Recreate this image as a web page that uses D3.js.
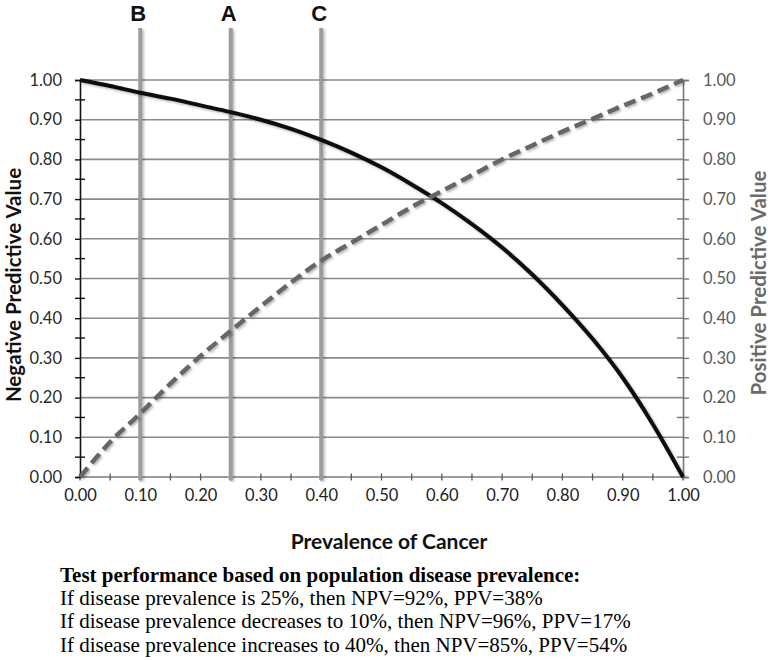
<!DOCTYPE html>
<html>
<head>
<meta charset="utf-8">
<script src="https://cdn.jsdelivr.net/npm/d3@7"></script>
<style>
  body { margin: 0; background: #fff; }
  svg { display: block; }
</style>
</head>
<body>
<svg id="chart" width="771" height="660"></svg>
<script>
// ---------- data ----------
const prevalence = [0.00, 0.05, 0.10, 0.15, 0.20, 0.25, 0.30, 0.35, 0.40, 0.45, 0.50,
                    0.55, 0.60, 0.65, 0.70, 0.75, 0.80, 0.85, 0.90, 0.95, 1.00];
const npvValues = [1.000, 0.985, 0.968, 0.953, 0.936, 0.919, 0.900, 0.877, 0.849, 0.817, 0.780,
                   0.737, 0.690, 0.637, 0.578, 0.510, 0.433, 0.348, 0.250, 0.133, 0.000];
const ppvValues = [0.000, 0.088, 0.160, 0.235, 0.305, 0.368, 0.430, 0.490, 0.545, 0.590, 0.635,
                   0.680, 0.720, 0.760, 0.800, 0.835, 0.870, 0.902, 0.935, 0.966, 1.000];
const markerLabels = ["B", "A", "C"];
const markerPrevalence = [0.10, 0.25, 0.40];
const majorTicks = [0.0, 0.1, 0.2, 0.3, 0.4, 0.5, 0.6, 0.7, 0.8, 0.9, 1.0];
const minorTicks = [0.05, 0.15, 0.25, 0.35, 0.45, 0.55, 0.65, 0.75, 0.85, 0.95];
const xAxisTitle = "Prevalence of Cancer";
const leftAxisTitle = "Negative Predictive Value";
const rightAxisTitle = "Positive Predictive Value";
const noteTitle = "Test performance based on population disease prevalence:";
const noteLines = [
  "If disease prevalence is 25%, then NPV=92%, PPV=38%",
  "If disease prevalence decreases to 10%, then NPV=96%, PPV=17%",
  "If disease prevalence increases to 40%, then NPV=85%, PPV=54%"
];

// ---------- layout ----------
const L = 80, R = 683, T = 80, B = 477;
const svg = d3.select("#chart");
const x = d3.scaleLinear().domain([0, 1]).range([L, R]);
const y = d3.scaleLinear().domain([0, 1]).range([B, T]);
const fmt = d3.format(".2f");
const sans = "Lato, 'Open Sans', sans-serif";

const defs = svg.append("defs");
const sh = defs.append("filter").attr("id", "shadow")
  .attr("filterUnits", "userSpaceOnUse")
  .attr("x", 0).attr("y", 0).attr("width", 771).attr("height", 660);
sh.append("feDropShadow").attr("dx", 1.5).attr("dy", 1.5)
  .attr("stdDeviation", 1.2).attr("flood-color", "#000").attr("flood-opacity", 0.3);

// gridlines
svg.append("g").selectAll("line")
  .data(majorTicks.filter(d => d > 0))
  .join("line")
  .attr("x1", L).attr("x2", R)
  .attr("y1", d => y(d)).attr("y2", d => y(d))
  .attr("stroke", "#8a8a8a").attr("stroke-width", 1.6);

// x axis (domain + crossing ticks)
svg.append("line").attr("x1", L).attr("x2", R).attr("y1", B).attr("y2", B)
  .attr("stroke", "#7a7a7a").attr("stroke-width", 1.6);
svg.append("g").selectAll("line")
  .data(majorTicks.concat(minorTicks))
  .join("line")
  .attr("x1", d => x(d)).attr("x2", d => x(d))
  .attr("y1", B - 3.5).attr("y2", B + 3.5)
  .attr("stroke", "#555").attr("stroke-width", 1.3);
const xAxis = d3.axisBottom(x).tickValues(majorTicks).tickFormat(fmt).tickSize(0).tickPadding(12);
const gx = svg.append("g").attr("transform", `translate(0,${B})`).call(xAxis);
gx.select(".domain").remove();
gx.selectAll("text").attr("font-family", sans).attr("font-size", 16.5).attr("fill", "#222");

// left axis
const yAxisL = d3.axisLeft(y).tickValues(majorTicks).tickFormat(fmt).tickSize(5).tickPadding(13);
const gl = svg.append("g").attr("transform", `translate(${L},0)`).call(yAxisL);
gl.select(".domain").attr("stroke", "#111").attr("stroke-width", 1.6);
gl.selectAll(".tick line").attr("stroke", "#111").attr("stroke-width", 1.4);
gl.selectAll("text").attr("font-family", sans).attr("font-size", 16.5).attr("fill", "#2a2a2a");
svg.append("g").selectAll("line").data(minorTicks).join("line")
  .attr("x1", L - 5).attr("x2", L + 5)
  .attr("y1", d => y(d)).attr("y2", d => y(d))
  .attr("stroke", "#111").attr("stroke-width", 1.4);

// right axis
const yAxisR = d3.axisRight(y).tickValues(majorTicks).tickFormat(fmt).tickSize(6).tickPadding(14);
const gr = svg.append("g").attr("transform", `translate(${R},0)`).call(yAxisR);
gr.select(".domain").attr("stroke", "#777").attr("stroke-width", 1.6);
gr.selectAll(".tick line").attr("stroke", "#777").attr("stroke-width", 1.4);
gr.selectAll("text").attr("font-family", sans).attr("font-size", 16.5).attr("fill", "#5a5a5a");
svg.append("g").selectAll("line").data(minorTicks).join("line")
  .attr("x1", R - 6).attr("x2", R + 6)
  .attr("y1", d => y(d)).attr("y2", d => y(d))
  .attr("stroke", "#777").attr("stroke-width", 1.4);

// marker lines B / A / C
const markers = markerPrevalence.map((p, i) => ({ p, label: markerLabels[i] }));
svg.append("g").selectAll("line").data(markers).join("line")
  .attr("x1", d => x(d.p)).attr("x2", d => x(d.p))
  .attr("y1", 28).attr("y2", B + 3)
  .attr("stroke", "#9b9b9b").attr("stroke-width", 4)
  .attr("filter", "url(#shadow)");
svg.append("g").selectAll("text").data(markers).join("text")
  .attr("x", d => x(d.p) - 2).attr("y", 21)
  .attr("text-anchor", "middle")
  .attr("font-family", "'Liberation Sans', Arial, sans-serif")
  .attr("font-weight", "bold").attr("font-size", 22).attr("fill", "#111")
  .text(d => d.label);

// curves
const npvData = prevalence.map((p, i) => ({ p, v: npvValues[i] }));
const ppvData = prevalence.map((p, i) => ({ p, v: ppvValues[i] }));
const line = d3.line().x(d => x(d.p)).y(d => y(d.v)).curve(d3.curveMonotoneX);

svg.append("path").datum(npvData)
  .attr("d", line).attr("fill", "none")
  .attr("stroke", "#111").attr("stroke-width", 4)
  .attr("stroke-linejoin", "round")
  .attr("filter", "url(#shadow)");
svg.append("path").datum(ppvData)
  .attr("d", line).attr("fill", "none")
  .attr("stroke", "#666").attr("stroke-width", 4.5)
  .attr("stroke-dasharray", "12,6")
  .attr("filter", "url(#shadow)");

// axis titles
svg.append("text")
  .attr("x", 389).attr("y", 549)
  .attr("text-anchor", "middle")
  .attr("font-family", sans).attr("font-weight", "bold").attr("font-size", 21).attr("fill", "#111")
  .text(xAxisTitle);
svg.append("text")
  .attr("transform", "translate(20.5,285) rotate(-90)")
  .attr("text-anchor", "middle")
  .attr("font-family", sans).attr("font-weight", "bold").attr("font-size", 20.5).attr("fill", "#111")
  .text(leftAxisTitle);
svg.append("text")
  .attr("transform", "translate(766,283) rotate(-90)")
  .attr("text-anchor", "middle")
  .attr("font-family", sans).attr("font-weight", "bold").attr("font-size", 20.5).attr("fill", "#6a6a6a")
  .text(rightAxisTitle);

// notes
const serif = "'Liberation Serif', 'Times New Roman', serif";
svg.append("text")
  .attr("x", 60).attr("y", 582)
  .attr("font-family", serif).attr("font-weight", "bold").attr("font-size", 21).attr("fill", "#000")
  .text(noteTitle);
svg.append("g").selectAll("text").data(noteLines).join("text")
  .attr("x", 60).attr("y", (d, i) => 605 + i * 23.3)
  .attr("font-family", serif).attr("font-size", 21).attr("fill", "#000")
  .text(d => d);
</script>
</body>
</html>
